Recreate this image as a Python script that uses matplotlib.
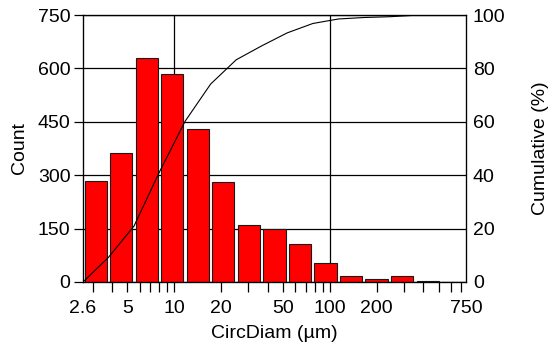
import numpy as np
import matplotlib.pyplot as plt
from matplotlib.ticker import FixedLocator, NullFormatter

plt.rcParams['font.family'] = ['Liberation Sans', 'DejaVu Sans']

# bin edges (log spaced, µm) and counts per bin
bin_edges = [2.6, 3.79, 5.53, 8.07, 11.78, 17.18, 25.07, 36.57, 53.36,
             77.84, 113.6, 165.7, 241.7, 352.7, 514.5, 750.0]
counts = [285, 361, 628, 583, 429, 280, 161, 150, 108, 52, 17, 9, 17, 3, 0]

x_ticks = [2.6, 5, 10, 20, 50, 100, 200, 750]
x_ticklabels = ['2.6', '5', '10', '20', '50', '100', '200', '750']
minor_ticks = [3, 4, 6, 7, 8, 9, 30, 40, 60, 70, 80, 90, 300, 400, 500, 600, 700]
count_ticks = [0, 150, 300, 450, 600, 750]
cum_ticks = [0, 20, 40, 60, 80, 100]

edges = np.array(bin_edges)
lo, hi = edges[:-1], edges[1:]
# bars take ~87% of each log bin
lw = np.log10(hi / lo)
left = 10 ** (np.log10(lo) + 0.06 * lw)
right = 10 ** (np.log10(hi) - 0.07 * lw)

cum = np.concatenate([[0], np.cumsum(counts)]) / np.sum(counts) * 100

FS = 14

fig = plt.figure(figsize=(5.54, 3.49), dpi=100)
ax = fig.add_axes([83 / 554, 1 - 282 / 349, (466 - 83) / 554, (282 - 15) / 349])
ax.set_xscale('log')
ax.set_xlim(2.6, 750)
ax.set_ylim(0, 750)

ax.bar(left, counts, width=right - left, align='edge', color='#ff0000',
       edgecolor='#1a1a1a', linewidth=0.8, zorder=2)

for y in count_ticks:
    ax.axhline(y, color='black', lw=0.9, zorder=1)
for xv in [10, 100]:
    ax.axvline(xv, color='black', lw=0.9, zorder=1)

ax.xaxis.set_major_locator(FixedLocator(x_ticks))
ax.set_xticklabels(x_ticklabels)
ax.xaxis.set_minor_locator(FixedLocator(minor_ticks))
ax.xaxis.set_minor_formatter(NullFormatter())
ax.tick_params(axis='x', which='both', direction='out', length=7, width=0.9,
               labelsize=FS, pad=6)
# no tick mark at the 2.6 / 750 ends
for t in ax.xaxis.get_major_ticks():
    if t.get_loc() in (2.6, 750):
        t.tick1line.set_visible(False)

ax.set_yticks(count_ticks)
ax.tick_params(axis='y', direction='out', length=6.5, width=0.9, labelsize=FS, pad=2.5)
ax.set_ylabel('Count', fontsize=FS, labelpad=7)
ax.set_xlabel('CircDiam (µm)', fontsize=FS, labelpad=6)

for s in ax.spines.values():
    s.set_linewidth(0.9)

ax2 = ax.twinx()
ax2.set_ylim(0, 100)
ax2.plot(bin_edges, cum, color='black', lw=0.8, zorder=3)
ax2.set_yticks(cum_ticks)
ax2.tick_params(axis='y', length=0, labelsize=FS, pad=5)
ax2.set_ylabel('Cumulative (%)', fontsize=FS, labelpad=19)

fig.savefig('out.png', dpi=100)
